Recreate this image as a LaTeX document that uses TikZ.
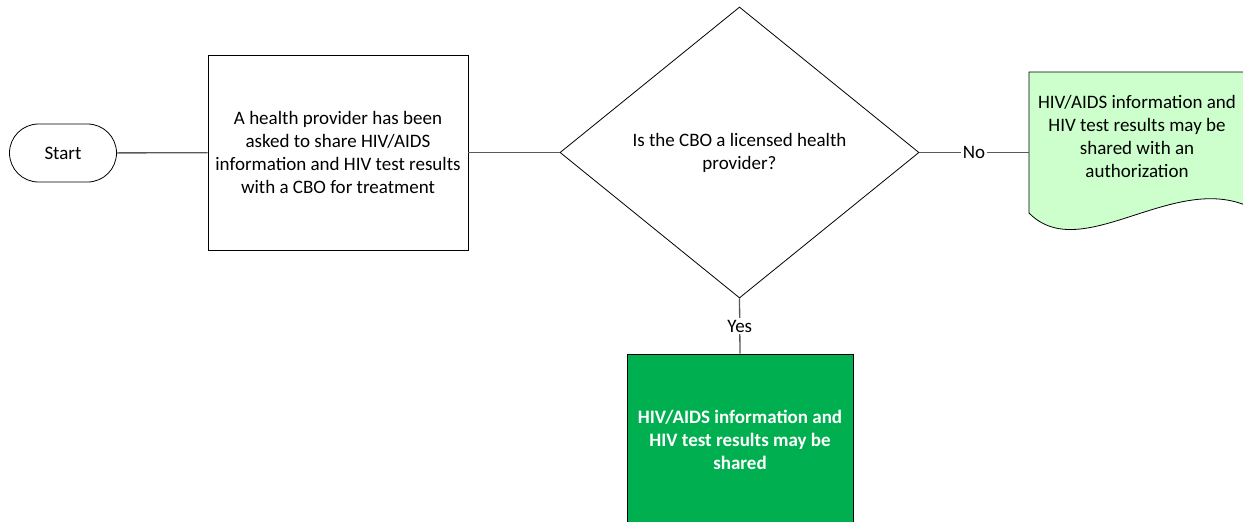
\documentclass[tikz,border=0pt]{standalone}
\usepackage{fontspec}
\setmainfont{Carlito}
\usepackage{xcolor}
\usetikzlibrary{shapes.geometric}
\definecolor{docgreen}{RGB}{204,255,204}
\definecolor{okgreen}{RGB}{0,176,80}
\definecolor{linkgray}{RGB}{89,89,89}
\newcommand{\flowfont}{\fontsize{19}{23}\selectfont}

\begin{document}
\begin{tikzpicture}[x=1pt, y=-1pt, font=\flowfont,
  box/.style={rectangle, draw, fill=white, line width=0.8pt, align=center, inner sep=0pt},
  terminal/.style={box, rounded corners=29pt, minimum width=107pt, minimum height=58pt},
  decision/.style={diamond, draw, fill=white, line width=0.8pt, align=center, inner sep=0pt,
    minimum width=359pt, minimum height=291pt},
  docshape/.style={rectangle, align=center, inner sep=0pt, minimum width=216pt, minimum height=128pt},
  link/.style={draw=linkgray, line width=1.3pt},
  lbl/.style={fill=white, inner sep=2pt}]
  \useasboundingbox (0,0) rectangle (1243,522);

  % Document outline
  \filldraw[fill=docgreen, line width=0.8pt] (1029,72) -- (1245,72) -- (1245,205)
    .. controls (1170,175) and (1080,265) .. (1029,213) -- cycle;

  % Nodes
  \node[terminal] (start) at (63,153) {Start};
  \node[box, minimum width=260pt, minimum height=195pt] (ask) at (338,152.5)
    {A health provider has been\\asked to share HIV/AIDS\\information and HIV test results\\with a CBO for treatment};
  \node[decision] (cbo) at (739.5,152.5) {Is the CBO a licensed health\\provider?};
  \node[docshape] (auth) at (1137,136)
    {HIV/AIDS information and\\HIV test results may be\\shared with an\\authorization};
  \node[box, fill=okgreen, text=white, font={\flowfont\bfseries}, minimum width=226pt, minimum height=172pt] (share) at (740,440)
    {HIV/AIDS information and\\HIV test results may be\\shared};

  % Edges
  \draw[link] (start) -- (ask);
  \draw[link] (ask) -- (cbo);
  \draw[link] (cbo.east) -- node[lbl] {No} (cbo.east -| auth.west);
  \draw[link] (cbo.south) -- node[lbl] {Yes} (share.north);
\end{tikzpicture}
\end{document}
